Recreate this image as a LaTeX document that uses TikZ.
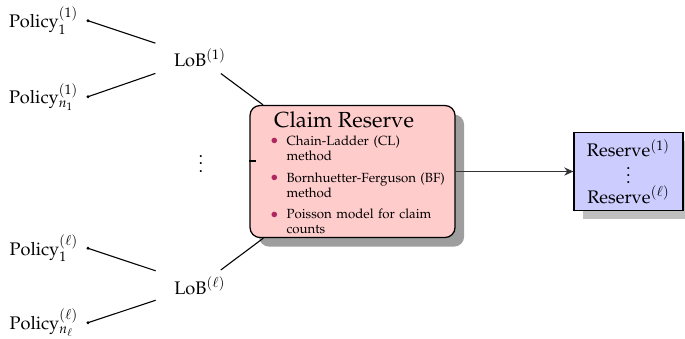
\documentclass[tikz,border=0pt]{standalone}
\usepackage[T1]{fontenc}
\usepackage{mathpazo}
\usetikzlibrary{arrows.meta,shadows,calc}
\definecolor{bulletc}{RGB}{176,38,96}
\newcommand\crbullet{\llap{\textcolor{bulletc}{\raisebox{0.1ex}{\fontsize{7.5}{8}\selectfont$\bullet$}}}}
\begin{document}
\begin{tikzpicture}[x=0.55pt,y=-0.55pt,line width=0.6pt,
  policy/.style={anchor=east,inner xsep=5pt,inner ysep=2pt},
  lob/.style={inner xsep=10pt,inner ysep=3.33pt},
  dotend/.style={radius=0.9pt},
  crbox/.style={draw,fill=red!20,rounded corners=5.5pt,line width=0.7pt,
    minimum width=112.75pt,minimum height=72.6pt,
    drop shadow={shadow xshift=5pt,shadow yshift=-5pt,fill=black!38,opacity=1}},
  resbox/.style={draw,fill=blue!20,line width=0.7pt,align=center,
    minimum width=59.95pt,minimum height=42.9pt,
    drop shadow={shadow xshift=5pt,shadow yshift=-4.5pt,fill=black!25,opacity=1}},
  items/.style={anchor=north west,inner sep=0pt,text width=100pt,align=left,
    font=\fontsize{7.3}{8.25}\selectfont}]
\useasboundingbox (0,0) rectangle (685,338);

% policies and lines of business
\node[policy] (p11) at (88,20.7) {Policy$_1^{(1)}$};
\node[policy] (p1n) at (88,96.7) {Policy$_{n_1}^{(1)}$};
\node[policy] (pl1) at (88,248.3) {Policy$_1^{(\ell)}$};
\node[policy] (pln) at (88,322.7) {Policy$_{n_\ell}^{(\ell)}$};
\node[lob] (lob1) at (200,58) {LoB$^{(1)}$};
\node[lob] (lobl) at (200,285.5) {LoB$^{(\ell)}$};
\node (vd) at (201,158.5) {$\vdots$};

% claim reserve box
\node[crbox] (cr) at (352.5,171.5) {};
\node[anchor=base,font=\large] (crt) at (344,127) {Claim Reserve};
\node[items] (crl) at (272,130) {%
  \begin{list}{\crbullet}{\setlength\leftmargin{7.7pt}\setlength\labelwidth{0pt}%
      \setlength\labelsep{4.6pt}\setlength\topsep{0pt}\setlength\partopsep{0pt}%
      \setlength\parsep{0pt}\setlength\itemsep{3.6pt}}
    \item Chain-Ladder\hspace{2.6pt}(CL)\newline method
    \item Bornhuetter-Ferguson\hspace{2.4pt}(BF)\newline method
    \item \makebox[82.5pt][s]{Poisson model for claim}\newline counts
  \end{list}};

% resulting reserves
\node[resbox] (res) at (628.5,171.5)
  {Reserve$^{(1)}$\\[-1.5pt]$\vdots$\\[-1.5pt]Reserve$^{(\ell)}$};

% connectors
\foreach \p/\l in {p11/lob1,p1n/lob1,pl1/lobl,pln/lobl}{
  \draw (\p.east) -- (\l);
  \fill (\p.east) circle[dotend];
}
\draw (lob1) -- (cr);
\draw (lobl) -- (cr);
\coordinate (tick) at (256,161);
\draw (tick -| cr.west) -- (tick);
\draw[black!80,-{Stealth[length=5pt,width=4.5pt]}] (cr.east) -- (cr.east -| res.west);
\end{tikzpicture}
\end{document}
